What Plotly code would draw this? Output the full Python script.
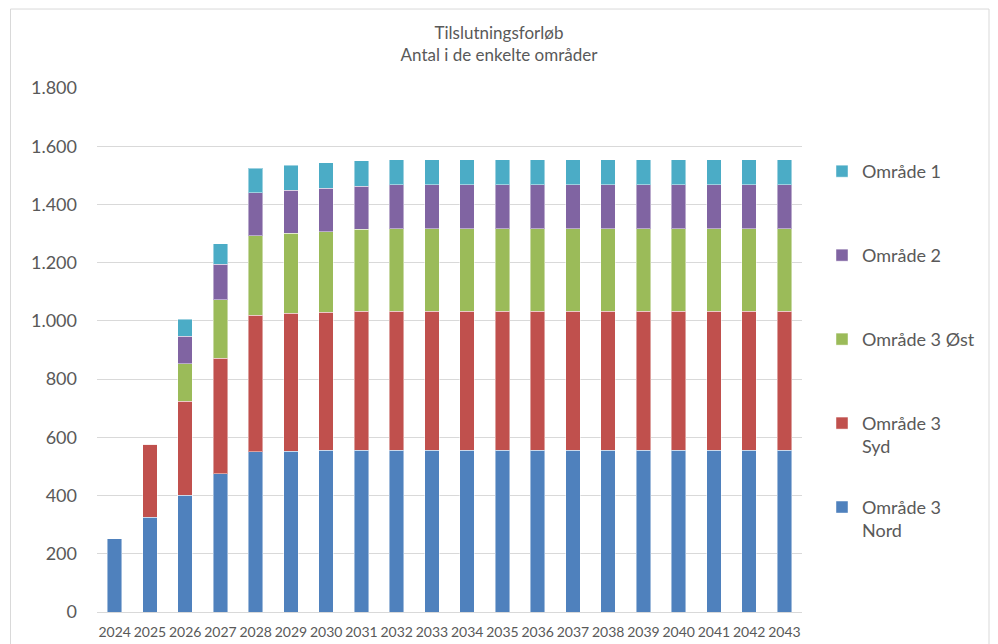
import plotly.graph_objects as go

years = [str(y) for y in range(2024, 2044)]
nord = [251, 326, 401, 475, 551, 552, 556, 556] + [556] * 12
syd = [0, 251, 323, 397, 469, 475, 474, 477] + [477] * 12
oest = [0, 0, 128, 201, 273, 274, 277, 281] + [283] * 12
omr2 = [0, 0, 96, 122, 147, 148, 149, 149] + [151] * 12
omr1 = [0, 0, 57, 70, 84, 85, 87, 87] + [87] * 12

series = [
    ("Område 3<br>Nord", nord, "#4F81BD"),
    ("Område 3<br>Syd", syd, "#C0504D"),
    ("Område 3 Øst", oest, "#9BBB59"),
    ("Område 2", omr2, "#8064A2"),
    ("Område 1", omr1, "#4BACC6"),
]

W, H = 998, 644
PL, PR, PT, PB = 97, 802, 87.5, 611.7

def px_x(p):
    return (p - PL) / (PR - PL)

def px_y(p):
    return (PB - p) / (PB - PT)

# legend first-line centers (pixels) for each series
leg_y = [508, 424, 340, 256, 172]

fig = go.Figure()
for i, (name, vals, col) in enumerate(series):
    lg = "legend" if i == 0 else f"legend{i+1}"
    fig.add_trace(go.Bar(
        x=years, y=vals, name=name, marker_color=col,
        marker_line=dict(color="rgba(255,255,255,0.45)", width=1),
        legend=lg,
    ))

font = "Lato, 'Open Sans', sans-serif"
layout_legends = {}
for i in range(5):
    key = "legend" if i == 0 else f"legend{i+1}"
    layout_legends[key] = dict(
        x=px_x(822), y=px_y(leg_y[i] - 19.5), xanchor="left", yanchor="top",
        font=dict(family=font, size=18, color="#595959"),
        bgcolor="rgba(0,0,0,0)", valign="top", itemwidth=30,
    )

fig.update_layout(
    width=W, height=H,
    barmode="stack", bargap=0.59,
    paper_bgcolor="white", plot_bgcolor="white",
    margin=dict(l=PL, r=W - PR, t=PT, b=H - PB, pad=0, autoexpand=False),
    title=dict(
        text="Tilslutningsforløb<br>Antal i de enkelte områder",
        x=0.5, xref="container", xanchor="center",
        y=1 - 39 / H, yref="container", yanchor="top",
        font=dict(family=font, size=17, color="#595959"),
    ),
    xaxis=dict(
        type="category", showgrid=False, showline=False, ticks="",
        tickfont=dict(family=font, size=14, color="#595959"),
        ticklabelstandoff=10, automargin=False,
    ),
    yaxis=dict(
        range=[0, 1800], dtick=200, tickformat=",d",
        showgrid=True, gridcolor="#D9D9D9", gridwidth=1,
        zeroline=True, zerolinecolor="#D9D9D9", zerolinewidth=1,
        showline=False, ticks="",
        tickfont=dict(family=font, size=18, color="#595959"),
        ticklabelstandoff=19, automargin=False,
    ),
    separators=",.",
    showlegend=True,
    shapes=[dict(
        type="rect", xref="paper", yref="paper",
        x0=px_x(10.5), x1=px_x(989), y0=px_y(660), y1=px_y(8.5),
        line=dict(color="#D9D9D9", width=1), fillcolor="rgba(0,0,0,0)",
        layer="below",
    )],
    **layout_legends,
)

fig.write_html("out.html")
